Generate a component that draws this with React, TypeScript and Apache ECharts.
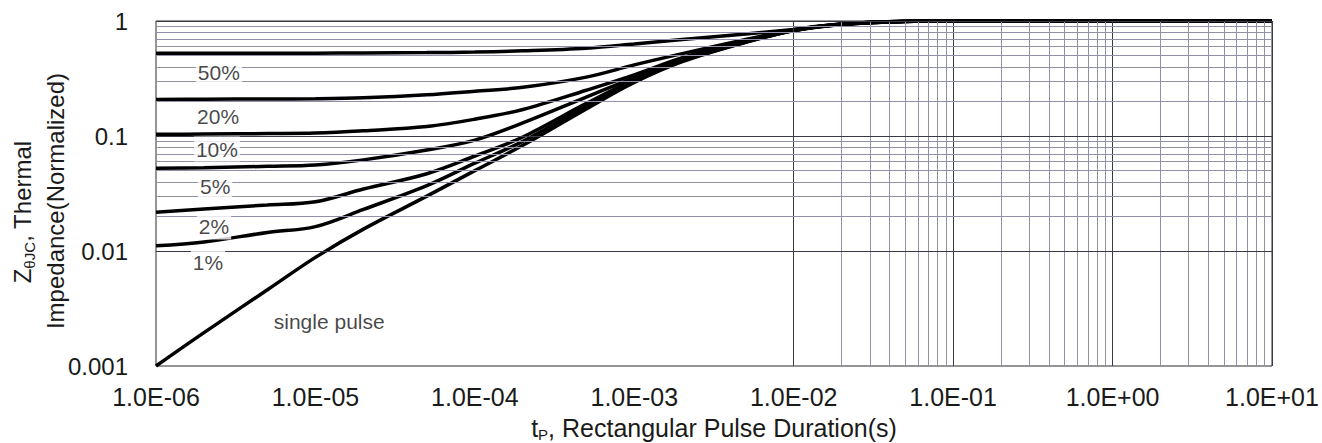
import React, { useEffect, useRef } from "react";
import * as echarts from "echarts";

// Pulse durations (s) at which the curves were read
const pulseDurations = [1e-6, 2e-6, 5e-6, 1e-5, 2e-5, 5e-5, 1e-4, 2e-4, 5e-4, 1e-3, 2e-3, 5e-3, 1e-2, 2e-2, 5e-2, 1e-1, 1, 10];

// Normalized thermal impedance for each duty cycle
const duty50 = [0.524, 0.524, 0.524, 0.525, 0.527, 0.531, 0.537, 0.55, 0.58, 0.63, 0.69, 0.77, 0.845, 0.94, 0.995, 1, 1, 1];
const duty20 = [0.208, 0.209, 0.21, 0.211, 0.215, 0.228, 0.245, 0.265, 0.325, 0.415, 0.52, 0.69, 0.84, 0.94, 0.994, 1, 1, 1];
const duty10 = [0.1035, 0.104, 0.105, 0.106, 0.111, 0.121, 0.14, 0.17, 0.25, 0.34, 0.48, 0.675, 0.835, 0.938, 0.993, 1, 1, 1];
const duty5 = [0.0524, 0.0529, 0.0545, 0.0559, 0.062, 0.0755, 0.092, 0.13, 0.218, 0.322, 0.465, 0.665, 0.83, 0.936, 0.993, 1, 1, 1];
const duty2 = [0.0217, 0.0232, 0.0251, 0.0268, 0.0346, 0.047, 0.067, 0.098, 0.192, 0.31, 0.455, 0.66, 0.828, 0.935, 0.992, 1, 1, 1];
const duty1 = [0.0111, 0.012, 0.0145, 0.0163, 0.023, 0.037, 0.058, 0.09, 0.182, 0.302, 0.45, 0.656, 0.826, 0.934, 0.992, 1, 1, 1];
const singlePulse = [0.001, 0.00195, 0.0046, 0.0088, 0.0155, 0.03, 0.05, 0.083, 0.172, 0.292, 0.443, 0.652, 0.824, 0.933, 0.992, 1, 1, 1];

const curveNames = ["50%", "20%", "10%", "5%", "2%", "1%", "single pulse"];
const curveValues = [duty50, duty20, duty10, duty5, duty2, duty1, singlePulse];

// Curve label anchor points (data coordinates)
const labelXs = [2.48e-6, 2.45e-6, 2.41e-6, 2.35e-6, 2.31e-6, 2.12e-6, 1.22e-5];
const labelYs = [0.36, 0.149, 0.077, 0.0367, 0.0162, 0.008, 0.00246];

// Axis ticks
const xTickLabels = ["1.0E-06", "1.0E-05", "1.0E-04", "1.0E-03", "1.0E-02", "1.0E-01", "1.0E+00", "1.0E+01"];
const xDecades = [-6, -5, -4, -3, -2, -1, 0, 1];
const yTickLabels = ["0.001", "0.01", "0.1", "1"];
const yDecades = [-3, -2, -1, 0];
const gridMultipliers = [2, 3, 4, 5, 6, 7, 8, 9];

const FONT = '"Liberation Sans", Arial, sans-serif';
const MINOR = "#9090a6";
const MAJOR = "#3a3a46";

export default function App() {
  const ref = useRef<HTMLDivElement>(null);

  useEffect(() => {
    if (!ref.current) return;
    const chart = echarts.init(ref.current, undefined, { renderer: "svg" });

    const gridLines: any[] = [];
    const ls = (color: string) => ({ color, width: 1, type: "solid" });
    xDecades.forEach((d, i) => {
      gridLines.push({ xAxis: Math.pow(10, d), lineStyle: ls(MAJOR) });
      if (i < xDecades.length - 1) {
        gridMultipliers.forEach((m) => gridLines.push({ xAxis: m * Math.pow(10, d), lineStyle: ls(MINOR) }));
      }
    });
    yDecades.forEach((d, i) => {
      gridLines.push({ yAxis: Math.pow(10, d), lineStyle: ls(MAJOR) });
      if (i < yDecades.length - 1) {
        gridMultipliers.forEach((m) => gridLines.push({ yAxis: m * Math.pow(10, d), lineStyle: ls(MINOR) }));
      }
    });

    const curveSeries = curveValues.map((vals, k) => ({
      name: curveNames[k],
      type: "line",
      data: pulseDurations.map((x, i) => [x, vals[i]]),
      showSymbol: false,
      smooth: 0.35,
      silent: true,
      z: 3,
      lineStyle: { color: "#000", width: 3.5 },
      emphasis: { disabled: true },
    }));

    chart.setOption({
      animation: false,
      backgroundColor: "#fff",
      grid: {
        left: 156,
        right: 50,
        top: 21,
        bottom: 77,
        show: true,
        borderColor: "#2a2a2a",
        borderWidth: 1,
        backgroundColor: "#fff",
      },
      xAxis: {
        type: "log",
        logBase: 10,
        min: 1e-6,
        max: 10,
        interval: 1,
        axisLine: { show: false },
        axisTick: { show: false },
        splitLine: { show: false },
        axisLabel: {
          fontSize: 25,
          fontFamily: FONT,
          color: "#1a1a1a",
          margin: 18,
          formatter: (v: number) => {
            const idx = xDecades.indexOf(Math.round(Math.log10(v)));
            return idx >= 0 ? xTickLabels[idx] : "";
          },
        },
      },
      yAxis: {
        type: "log",
        logBase: 10,
        min: 0.001,
        max: 1,
        interval: 1,
        axisLine: { show: false },
        axisTick: { show: false },
        splitLine: { show: false },
        axisLabel: {
          fontSize: 24,
          fontFamily: FONT,
          color: "#1a1a1a",
          margin: 28,
          formatter: (v: number) => {
            const idx = yDecades.indexOf(Math.round(Math.log10(v)));
            return idx >= 0 ? yTickLabels[idx] : "";
          },
        },
      },
      series: [
        {
          type: "line",
          data: [[1e-6, 0.001]],
          showSymbol: false,
          silent: true,
          lineStyle: { width: 0 },
          z: 1,
          markLine: {
            silent: true,
            symbol: ["none", "none"],
            label: { show: false },
            lineStyle: { type: "solid", width: 1 },
            emphasis: { disabled: true },
            animation: false,
            data: gridLines,
          },
        },
        ...curveSeries,
        {
          type: "scatter",
          z: 5,
          silent: true,
          symbolSize: 1,
          itemStyle: { color: "rgba(0,0,0,0)" },
          data: curveNames.map((n, i) => ({ name: n, value: [labelXs[i], labelYs[i]] })),
          label: {
            show: true,
            position: "inside",
            formatter: "{b}",
            fontSize: 21,
            fontFamily: FONT,
            color: "#161616",
            backgroundColor: "#fff",
            padding: [2, 2],
          },
        },
      ],
      graphic: [
        {
          type: "text",
          x: 714,
          y: 428,
          style: {
            text: "{t|t}{s|P}{t|, Rectangular Pulse Duration(s)}",
            align: "center",
            verticalAlign: "middle",
            fill: "#1a1a1a",
            rich: {
              t: { fontSize: 25, fontFamily: FONT, color: "#1a1a1a", lineHeight: 28 },
              s: { fontSize: 15, fontFamily: FONT, color: "#1a1a1a", verticalAlign: "bottom", lineHeight: 16 },
            },
          },
        },
        {
          type: "text",
          x: 22,
          y: 212,
          rotation: Math.PI / 2,
          style: {
            text: "{t|Z}{s|θJC}{t|, Thermal}",
            align: "center",
            verticalAlign: "middle",
            fill: "#1a1a1a",
            rich: {
              t: { fontSize: 24, fontFamily: FONT, color: "#1a1a1a", lineHeight: 30 },
              s: { fontSize: 15, fontFamily: FONT, color: "#1a1a1a", verticalAlign: "bottom", lineHeight: 18 },
            },
          },
        },
        {
          type: "text",
          x: 55,
          y: 201,
          rotation: Math.PI / 2,
          style: {
            text: "Impedance(Normalized)",
            align: "center",
            verticalAlign: "middle",
            fill: "#1a1a1a",
            font: `24px ${FONT}`,
          },
        },
      ],
    });

    return () => chart.dispose();
  }, []);

  return (
    <div
      ref={ref}
      style={{ position: "absolute", left: 0, top: 0, width: 1322, height: 443, background: "#fff" }}
    />
  );
}
